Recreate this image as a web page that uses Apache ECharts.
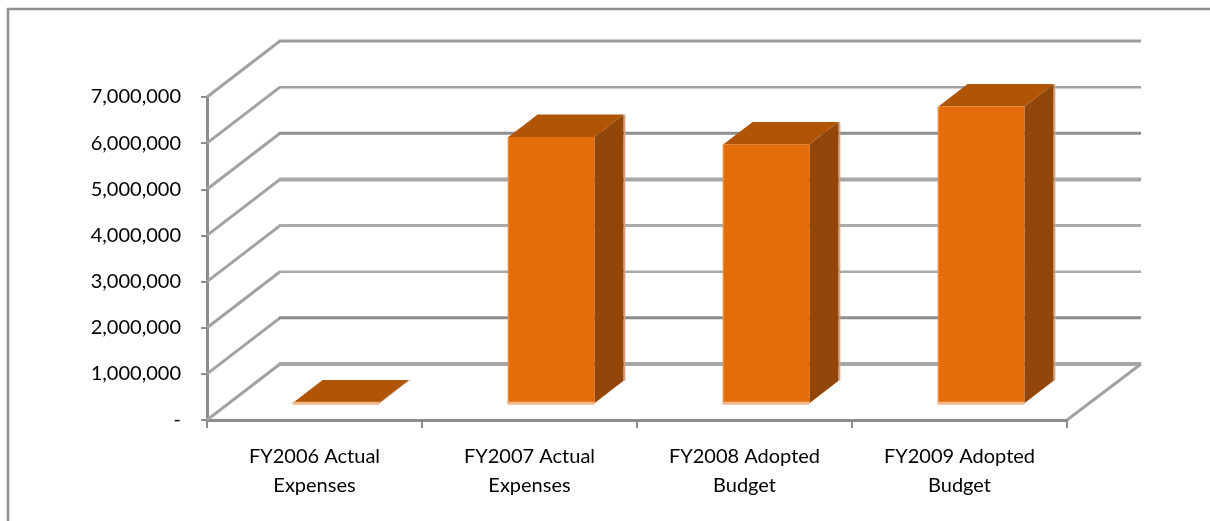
<!DOCTYPE html>
<html>
<head>
<meta charset="utf-8">
<style>html,body{margin:0;padding:0;background:#fff}#c{width:1210px;height:521px}</style>
<script src="https://cdn.jsdelivr.net/npm/echarts@6/dist/echarts.min.js"></script>
</head>
<body>
<div id="c"></div>
<script>
const categories = ['FY2006 Actual\nExpenses', 'FY2007 Actual\nExpenses', 'FY2008 Adopted\nBudget', 'FY2009 Adopted\nBudget'];
const budgetValues = [15000, 5770000, 5610000, 6430000];
const gridValues = [0, 1000000, 2000000, 3000000, 4000000, 5000000, 6000000, 7000000];
const wallWidths = [4, 3, 2.5, 3, 4, 3, 2.5, 3];
const wallColors = ['#a6a6a6', '#8c8c8c', '#a8a8a8', '#aaaaaa', '#a6a6a6', '#8e8e8e', '#a0a0a0', '#9c9c9c'];

const FONT = 'Lato, "Open Sans", sans-serif';
const DEPTH_X = 73, DEPTH_Y = 56;      // projection of the chart floor depth
const BAR_SHARE = 0.4;                 // bar width and depth as share of the band / floor

const chart = echarts.init(document.getElementById('c'), null, {renderer: 'canvas'});

function renderWall(params, api) {
  const v = api.value(1);
  const band = api.size([1, 0])[0];
  const p = api.coord([0, v]);
  const left = p[0] - band / 2;
  const right = left + band * categories.length;
  const y = p[1];
  const children = [{
    type: 'line',
    shape: {x1: left, y1: y, x2: left + DEPTH_X, y2: y - DEPTH_Y},
    style: {stroke: '#a2a2a2', lineWidth: 3}
  }, {
    type: 'line',
    shape: {x1: left + DEPTH_X - 1, y1: y - DEPTH_Y, x2: right + DEPTH_X + 1, y2: y - DEPTH_Y},
    style: {stroke: wallColors[params.dataIndex], lineWidth: wallWidths[params.dataIndex]}
  }];
  if (v === 0) {
    children.push({
      type: 'line',
      shape: {x1: right, y1: y, x2: right + DEPTH_X + 1, y2: y - DEPTH_Y},
      style: {stroke: '#a2a2a2', lineWidth: 3}
    });
  }
  return {type: 'group', children};
}

function renderBar(params, api) {
  const band = api.size([1, 0])[0];
  const w = band * BAR_SHARE;
  const dx = DEPTH_X * BAR_SHARE, dy = DEPTH_Y * BAR_SHARE;
  const ox = DEPTH_X * (1 - BAR_SHARE) / 2, oy = DEPTH_Y * (1 - BAR_SHARE) / 2;
  const top = api.coord([api.value(0), api.value(1)]);
  const base = api.coord([api.value(0), 0]);
  const x0 = top[0] - w / 2 + ox, x1 = x0 + w;
  const yT = top[1] - oy, yB = base[1] - oy;
  const poly = (points, fill) => ({type: 'polygon', shape: {points}, style: {fill}});
  const line = (a, b, stroke, lineWidth) => ({
    type: 'line', shape: {x1: a[0], y1: a[1], x2: b[0], y2: b[1]}, style: {stroke, lineWidth}
  });
  return {type: 'group', children: [
    poly([[x1, yT], [x1 + dx, yT - dy], [x1 + dx, yB - dy], [x1, yB]], '#93460a'),
    poly([[x0, yT], [x0 + dx, yT - dy], [x1 + dx, yT - dy], [x1, yT]], '#af5505'),
    poly([[x0, yT], [x1, yT], [x1, yB], [x0, yB]], '#e46c0a'),
    line([x0, yT], [x0, yB], '#ec8a38', 1.5),
    line([x0 - 1, yB], [x1, yB], '#f2b68a', 3),
    line([x1 + dx + 1, yT - dy], [x1 + dx + 1, yB - dy], '#d6a27c', 1.5)
  ]};
}

chart.setOption({
  animation: false,
  backgroundColor: '#ffffff',
  textStyle: {fontFamily: FONT},
  graphic: [{
    type: 'polyline',
    silent: true,
    shape: {points: [[8, 521], [8, 9], [1210, 9]]},
    style: {stroke: '#8f8f8f', lineWidth: 2.5, fill: null}
  }],
  grid: {left: 207, right: 143, top: 97, bottom: 101, containLabel: false},
  xAxis: {
    type: 'category',
    data: categories,
    boundaryGap: true,
    axisLine: {show: true, onZero: true, lineStyle: {color: '#8c8c8c', width: 3}},
    axisTick: {show: true, alignWithLabel: false, length: 8, lineStyle: {color: '#8c8c8c', width: 2}},
    axisLabel: {
      interval: 0, margin: 22, color: '#000', fontFamily: FONT, fontSize: 20, lineHeight: 29
    },
    splitLine: {show: false}
  },
  yAxis: {
    type: 'value',
    min: 0,
    max: 7000000,
    interval: 1000000,
    axisLine: {show: true, lineStyle: {color: '#8c8c8c', width: 3}},
    axisTick: {show: true, length: 6, lineStyle: {color: '#8c8c8c', width: 2}},
    axisLabel: {
      margin: 26, color: '#000', fontFamily: FONT, fontSize: 20, verticalAlign: 'middle', padding: [2, 0, 0, 0],
      formatter: v => v === 0 ? '-' : v.toLocaleString('en-US')
    },
    splitLine: {show: false}
  },
  series: [{
    type: 'custom',
    name: 'Walls',
    z: 1,
    silent: true,
    renderItem: renderWall,
    encode: {x: 0, y: 1},
    data: gridValues.map(v => [0, v])
  }, {
    type: 'custom',
    name: 'Budget',
    z: 3,
    renderItem: renderBar,
    encode: {x: 0, y: 1},
    data: budgetValues.map((v, i) => [i, v])
  }]
});
</script>
</body>
</html>
